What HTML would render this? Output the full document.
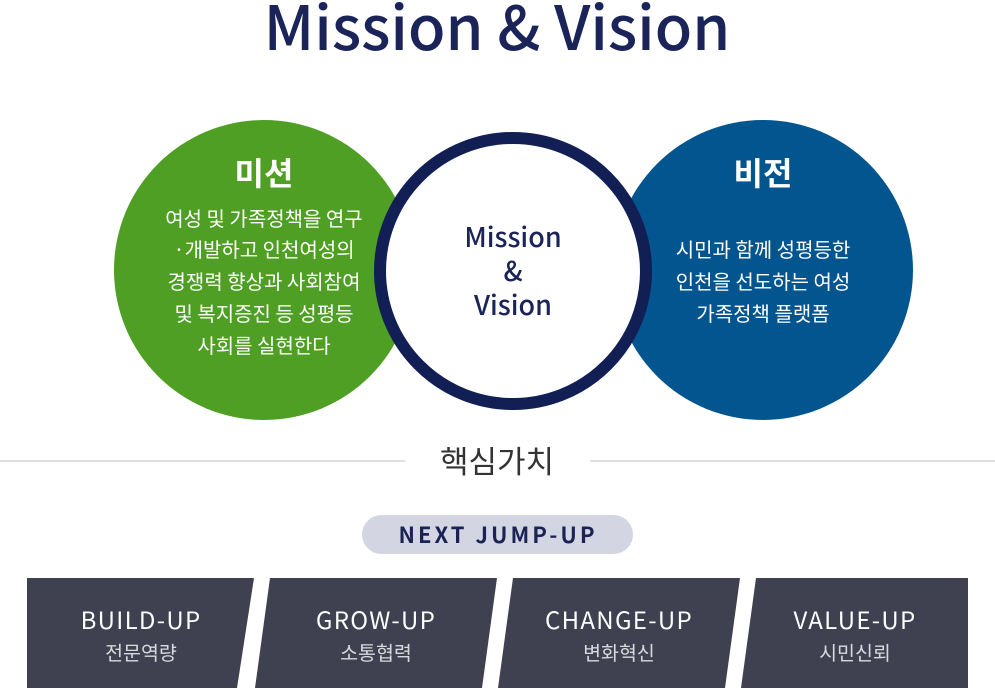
<!DOCTYPE html>
<html><head><meta charset="utf-8"><style>
body{margin:0;width:995px;height:688px;overflow:hidden;background:#fff;font-family:"Liberation Sans","Noto Sans CJK KR",sans-serif;}
</style></head><body>
<svg width="995" height="688" viewBox="0 0 995 688" xmlns="http://www.w3.org/2000/svg" style="font-family:'Liberation Sans','Noto Sans CJK KR',sans-serif">
<text x="497" y="50" text-anchor="middle" font-size="61" font-weight="500" fill="#1b2459" font-family="'Noto Sans CJK KR',sans-serif">Mission &amp; Vision</text>
<circle cx="264" cy="270" r="150" fill="#4e9f23"/>
<circle cx="763" cy="270" r="150" fill="#03558f"/>
<circle cx="513" cy="271" r="133" fill="#fff" stroke="#121f55" stroke-width="12"/>
<g fill="#fff" text-anchor="middle" font-family="'Noto Sans CJK KR',sans-serif">
<text x="264" y="185" font-size="32" font-weight="700">미션</text>
<text x="763" y="185" font-size="32" font-weight="700">비전</text>
<g font-size="20">
<text x="264" y="226">여성 및 가족정책을 연구</text>
<text x="264" y="257">·개발하고 인천여성의</text>
<text x="264" y="289">경쟁력 향상과 사회참여</text>
<text x="264" y="321">및 복지증진 등 성평등</text>
<text x="264" y="353">사회를 실현한다</text>
<text x="763" y="257">시민과 함께 성평등한</text>
<text x="763" y="289">인천을 선도하는 여성</text>
<text x="763" y="321">가족정책 플랫폼</text>
</g></g>
<g fill="#1b2459" text-anchor="middle" font-size="27" font-weight="500" font-family="'Noto Sans CJK KR',sans-serif">
<text x="513" y="247">Mission</text><text x="513" y="281">&amp;</text><text x="513" y="315">Vision</text>
</g>
<line x1="0" y1="461" x2="405" y2="461" stroke="#e0e0e0" stroke-width="2"/>
<line x1="590" y1="461" x2="995" y2="461" stroke="#e0e0e0" stroke-width="2"/>
<text x="497" y="473" text-anchor="middle" font-size="31" fill="#333" font-family="'Noto Sans CJK KR',sans-serif">핵심가치</text>
<rect x="362" y="515" width="271" height="39" rx="19.5" fill="#d3d6e2"/>
<text x="498" y="543" text-anchor="middle" font-size="22" font-weight="700" fill="#1a2356" letter-spacing="3" font-family="'Noto Sans CJK KR',sans-serif">NEXT JUMP-UP</text>
<g fill="#3f4150">
<polygon points="27,578 254,578 237,688 27,688"/>
<polygon points="270,578 497,578 482,688 255,688"/>
<polygon points="513,578 740,578 725,688 498,688"/>
<polygon points="756,578 968,578 968,688 741,688"/>
</g>
<g text-anchor="middle" fill="#fff" font-family="'Noto Sans CJK KR',sans-serif">
<g font-size="24" letter-spacing="1.3">
<text x="141" y="629">BUILD-UP</text><text x="376" y="629">GROW-UP</text><text x="619" y="629">CHANGE-UP</text><text x="855" y="629">VALUE-UP</text>
</g>
<g font-size="19.5" fill="#d8d9de">
<text x="141" y="660">전문역량</text><text x="376" y="660">소통협력</text><text x="619" y="660">변화혁신</text><text x="855" y="660">시민신뢰</text>
</g></g>
</svg>
</body></html>
